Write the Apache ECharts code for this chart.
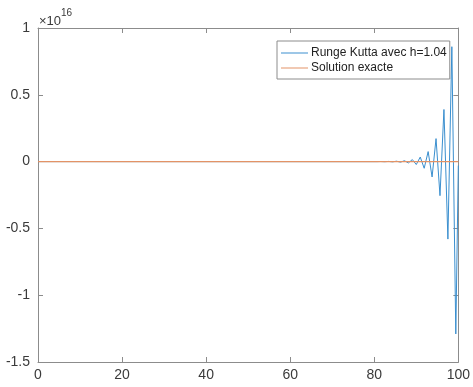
<!DOCTYPE html>
<html>
<head>
<meta charset="utf-8">
<script src="https://cdn.jsdelivr.net/npm/echarts@6/dist/echarts.min.js"></script>
<style>
  html, body { margin: 0; padding: 0; background: #fff; }
  #chart { width: 473px; height: 387px; }
</style>
</head>
<body>
<div id="chart"></div>
<script>
// Runge-Kutta solution (h = 1.04): flat at zero, then an oscillation that blows up near t = 100
const rkT = [0, 80.60, 81.54, 82.48, 83.42, 84.36, 85.30, 86.24, 87.18, 88.12, 89.06,
             90.00, 90.94, 91.88, 92.82, 93.76, 94.70, 95.64, 96.58, 97.52, 98.46, 99.40, 100];
const rkY = [0, -0.0004e16, 0.0006e16, -0.0009e16, 0.0013e16, -0.002e16, 0.003e16, -0.0045e16,
             0.0067e16, -0.01e16, 0.015e16, -0.022e16, 0.034e16, -0.05e16, 0.075e16, -0.115e16,
             0.172e16, -0.255e16, 0.39e16, -0.58e16, 0.86e16, -1.29e16, -0.03e16];

// Exact solution (stays at zero on this scale)
const exactT = [0, 100];
const exactY = [0, 0];

const seriesNames = ['Runge Kutta avec h=1.04', 'Solution exacte'];
const xTicks = { min: 0, max: 100, step: 20 };
const yTicks = { min: -1.5e16, max: 1e16, step: 0.5e16 };

const axisColor = '#8c8c8c';
const labelColor = '#3a3a3a';
const fontFamily = 'Liberation Sans, Arial, sans-serif';
const blue = '#3a8fcf';
const orange = '#e39366';

const zip = (xs, ys) => xs.map((x, i) => [x, ys[i]]);

const chart = echarts.init(document.getElementById('chart'), null, { renderer: 'canvas' });

const baseX = {
  type: 'value', min: xTicks.min, max: xTicks.max, interval: xTicks.step,
  splitLine: { show: false },
  axisLine: { onZero: false, lineStyle: { color: axisColor, width: 1 } },
  axisTick: { inside: true, length: 5, lineStyle: { color: axisColor } }
};
const baseY = {
  type: 'value', min: yTicks.min, max: yTicks.max, interval: yTicks.step,
  splitLine: { show: false },
  axisLine: { onZero: false, lineStyle: { color: axisColor, width: 1 } },
  axisTick: { inside: true, length: 5, lineStyle: { color: axisColor } }
};

chart.setOption({
  animation: false,
  backgroundColor: '#ffffff',
  grid: { left: 38, right: 11, top: 28, bottom: 25, containLabel: false },
  xAxis: [
    Object.assign({}, baseX, {
      position: 'bottom',
      axisLabel: { color: labelColor, fontSize: 14, fontFamily: fontFamily, margin: 6 }
    }),
    Object.assign({}, baseX, { position: 'top', axisLabel: { show: false } })
  ],
  yAxis: [
    Object.assign({}, baseY, {
      position: 'left',
      axisLabel: {
        color: labelColor, fontSize: 14, fontFamily: fontFamily, margin: 8,
        formatter: v => String(Math.round(v / 1e15) / 10)
      }
    }),
    Object.assign({}, baseY, { position: 'right', axisLabel: { show: false } })
  ],
  legend: {
    orient: 'vertical',
    left: 277, top: 41,
    padding: [6, 3, 5, 4],
    itemGap: 3,
    itemWidth: 27, itemHeight: 1,
    icon: 'rect',
    backgroundColor: '#ffffff',
    borderColor: '#8c8c8c', borderWidth: 1,
    textStyle: { color: '#222', fontSize: 12, fontFamily: fontFamily, padding: [0, 0, 0, -2] },
    data: seriesNames
  },
  graphic: [{
    type: 'text', left: 39, top: 8,
    style: {
      text: '{a|×10}{b|16}',
      rich: {
        a: { fontSize: 13, fontFamily: fontFamily, fill: labelColor, padding: [7, 0, 0, 0] },
        b: { fontSize: 10, fontFamily: fontFamily, fill: labelColor, verticalAlign: 'top' }
      }
    }
  }],
  series: [
    {
      name: seriesNames[0], type: 'line', symbol: 'none', smooth: false,
      data: zip(rkT, rkY),
      lineStyle: { color: blue, width: 1 },
      itemStyle: { color: blue },
      z: 2
    },
    {
      name: seriesNames[1], type: 'line', symbol: 'none',
      data: zip(exactT, exactY),
      lineStyle: { color: orange, width: 1.2 },
      itemStyle: { color: orange },
      z: 3
    }
  ]
});
</script>
</body>
</html>
